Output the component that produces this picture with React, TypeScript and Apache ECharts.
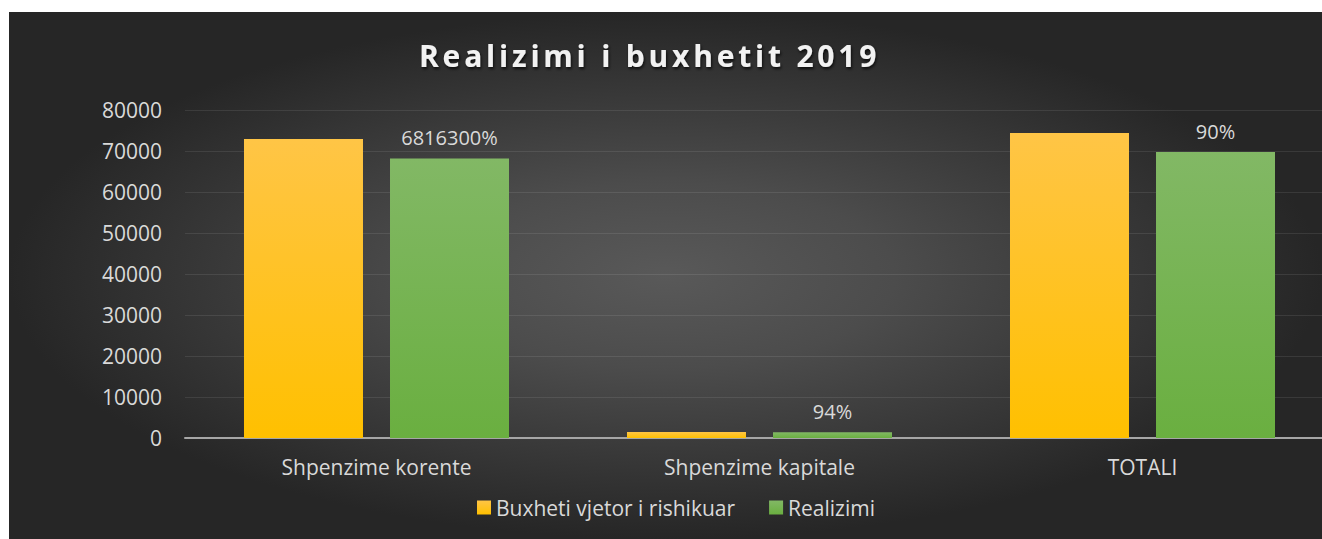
import React, { useEffect, useRef } from "react";
import * as echarts from "echarts";

const titleText = "Realizimi i buxhetit 2019";
const categories = ["Shpenzime korente", "Shpenzime kapitale", "TOTALI"];
const seriesNames = ["Buxheti vjetor i rishikuar", "Realizimi"];
const budgetValues = [72900, 1480, 74400];
const realizedValues = [68163, 1390, 69750];
const realizedLabels = ["6816300%", "94%", "90%"];
const yTicks = { min: 0, max: 80000, interval: 10000 };

const FONT = "'Open Sans', 'Noto Sans', sans-serif";

export default function App() {
  const ref = useRef<HTMLDivElement>(null);

  useEffect(() => {
    if (!ref.current) return;
    const chart = echarts.init(ref.current, null, { renderer: "svg" });
    chart.setOption({
      animation: false,
      backgroundColor: "transparent",
      textStyle: { fontFamily: FONT },
      title: {
        text: titleText,
        left: 410,
        top: 28,
        padding: 0,
        textStyle: {
          color: "#f2f2f2",
          fontFamily: FONT,
          fontSize: 30,
          fontWeight: "bold",
          textShadowColor: "rgba(0,0,0,0.75)",
          textShadowBlur: 3,
          textShadowOffsetX: 1,
          textShadowOffsetY: 2,
        },
      },
      legend: {
        data: seriesNames,
        left: 463,
        top: 480,
        itemWidth: 14,
        itemHeight: 14,
        itemGap: 34,
        icon: "rect",
        textStyle: { color: "#d9d9d9", fontSize: 21, fontFamily: FONT },
      },
      grid: { left: 176, right: 20, top: 98, bottom: 101, containLabel: false },
      xAxis: {
        type: "category",
        data: categories,
        axisLine: { show: true, lineStyle: { color: "#a6a6a6", width: 2 } },
        axisTick: { show: false },
        axisLabel: { color: "#d9d9d9", fontSize: 21, margin: 18, fontFamily: FONT },
      },
      yAxis: {
        type: "value",
        min: yTicks.min,
        max: yTicks.max,
        interval: yTicks.interval,
        axisLine: { show: false },
        axisTick: { show: false },
        axisLabel: {
          color: "#d9d9d9",
          fontSize: 21,
          margin: 23,
          fontFamily: FONT,
          formatter: (v: number) => String(v),
        },
        splitLine: { lineStyle: { color: "rgba(255,255,255,0.09)", width: 1 } },
      },
      series: [
        {
          name: seriesNames[0],
          type: "bar",
          data: budgetValues,
          barWidth: 119,
          barGap: "22.7%",
          itemStyle: {
            color: new echarts.graphic.LinearGradient(0, 0, 0, 1, [
              { offset: 0, color: "#ffc546" },
              { offset: 1, color: "#ffc000" },
            ]),
          },
        },
        {
          name: seriesNames[1],
          type: "bar",
          data: realizedValues,
          barWidth: 119,
          barGap: "22.7%",
          itemStyle: {
            color: new echarts.graphic.LinearGradient(0, 0, 0, 1, [
              { offset: 0, color: "#82b865" },
              { offset: 1, color: "#6aaf40" },
            ]),
          },
          label: {
            show: true,
            position: "top",
            distance: 11,
            color: "#d9d9d9",
            fontSize: 20,
            fontFamily: FONT,
            formatter: (p: any) => realizedLabels[p.dataIndex],
          },
        },
      ],
    });
    // Apply letter spacing to the title text, as in the reference
    const texts = ref.current.querySelectorAll("text");
    texts.forEach((t) => {
      if (t.textContent === titleText) {
        (t as SVGTextElement).style.letterSpacing = "3.8px";
      }
    });
    return () => chart.dispose();
  }, []);

  return (
    <div
      style={{
        position: "absolute",
        left: 9,
        top: 12,
        width: 1313,
        height: 527,
        overflow: "hidden",
        background:
          "radial-gradient(ellipse closest-side at 50% 50%, #595959 0%, #4c4c4c 35%, #262626 100%)",
      }}
    >
      <div ref={ref} style={{ width: 1345, height: 527 }} />
    </div>
  );
}
